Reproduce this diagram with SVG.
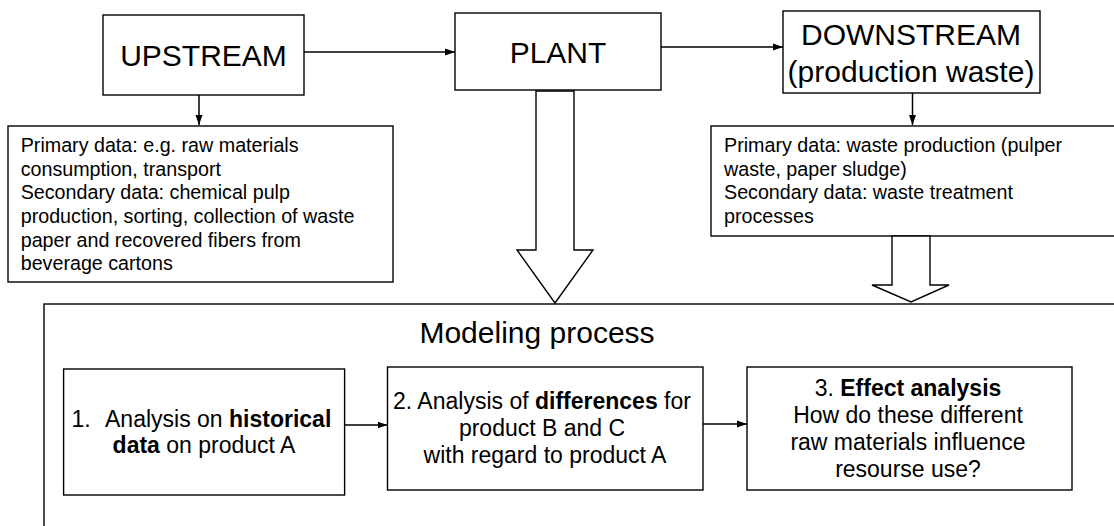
<svg xmlns="http://www.w3.org/2000/svg" width="1114" height="526" viewBox="0 0 1114 526">
<style>
text{font-family:"Liberation Sans",Arial,Helvetica,sans-serif;fill:#000}
.box{fill:#fff;stroke:#000;stroke-width:1.4}
.big{font-size:30px;text-anchor:middle}
.data{font-size:19.7px}
.step{font-size:23px;text-anchor:middle}
.b{font-weight:bold}
.conn{stroke:#000;stroke-width:1.5;fill:none}
.hollow{fill:#fff;stroke:#000;stroke-width:1.4;stroke-linejoin:miter}
</style>
<defs>
<marker id="ah" markerUnits="userSpaceOnUse" markerWidth="11" markerHeight="8" refX="10" refY="4" orient="auto">
<path d="M0,0.5 L10,4 L0,7.5 z" fill="#000"/>
</marker>
</defs>
<rect width="1114" height="526" fill="#fff"/>

<g id="modeling">
<rect class="box" x="44" y="304" width="1080" height="240"/>
<text class="big" x="537" y="343">Modeling process</text>
</g>

<g id="upstream">
<rect class="box" x="103" y="15" width="201" height="80"/>
<text class="big" x="203.5" y="66">UPSTREAM</text>
</g>

<g id="plant">
<rect class="box" x="455" y="13" width="206" height="77"/>
<text class="big" x="558" y="63">PLANT</text>
</g>

<g id="downstream">
<rect class="box" x="783" y="11" width="257" height="82"/>
<text class="big" x="911" y="45">DOWNSTREAM</text>
<text class="big" x="911" y="81.7">(production waste)</text>
</g>

<g id="upstream-data">
<rect class="box" x="8" y="126" width="385" height="156"/>
<text class="data" x="20.7" y="151.7">Primary data: e.g. raw materials</text>
<text class="data" x="20.7" y="175.5">consumption, transport</text>
<text class="data" x="20.7" y="199.3">Secondary data: chemical pulp</text>
<text class="data" x="20.7" y="223">production, sorting, collection of waste</text>
<text class="data" x="20.7" y="246.7">paper and recovered fibers from</text>
<text class="data" x="20.7" y="270.4">beverage cartons</text>
</g>

<g id="downstream-data">
<rect class="box" x="711" y="126" width="420" height="110"/>
<text class="data" x="724" y="151.7">Primary data: waste production (pulper</text>
<text class="data" x="724" y="175.5">waste, paper sludge)</text>
<text class="data" x="724" y="199.3">Secondary data: waste treatment</text>
<text class="data" x="724" y="223">processes</text>
</g>

<g id="step1">
<rect class="box" x="63.6" y="369" width="281" height="126"/>
<text style="font-size:23px" x="71.4" y="426.7">1.</text>
<text style="font-size:23px" x="105" y="426.7">Analysis on <tspan class="b">historical</tspan></text>
<text class="step" x="204" y="453.3"><tspan class="b">data</tspan> on product A</text>
</g>

<g id="step2">
<rect class="box" x="387.5" y="367" width="315.5" height="123"/>
<text class="step" x="542" y="409">2. Analysis of <tspan class="b">differences</tspan> for</text>
<text class="step" x="542" y="436">product B and C</text>
<text class="step" x="545" y="463">with regard to product A</text>
</g>

<g id="step3">
<rect class="box" x="747" y="367" width="325" height="123"/>
<text class="step" x="908" y="396">3. <tspan class="b">Effect analysis</tspan></text>
<text class="step" x="908" y="423">How do these different</text>
<text class="step" x="908" y="450">raw materials influence</text>
<text class="step" x="908" y="477">resourse use?</text>
</g>

<g id="connectors">
<line class="conn" x1="304" y1="52" x2="455" y2="52" marker-end="url(#ah)"/>
<line class="conn" x1="661" y1="47" x2="783" y2="47" marker-end="url(#ah)"/>
<line class="conn" x1="199" y1="95" x2="199" y2="125" marker-end="url(#ah)"/>
<line class="conn" x1="912.5" y1="93" x2="912.5" y2="125" marker-end="url(#ah)"/>
<line class="conn" x1="345" y1="425" x2="387.5" y2="425" marker-end="url(#ah)"/>
<line class="conn" x1="703" y1="424" x2="747" y2="424" marker-end="url(#ah)"/>
<polygon class="hollow" points="536,91 574,91 574,250 593,250 555,303 517,250 536,250"/>
<polygon class="hollow" points="892,236 930,236 930,285 949,285 911,302 872,285 892,285"/>
</g>
</svg>
